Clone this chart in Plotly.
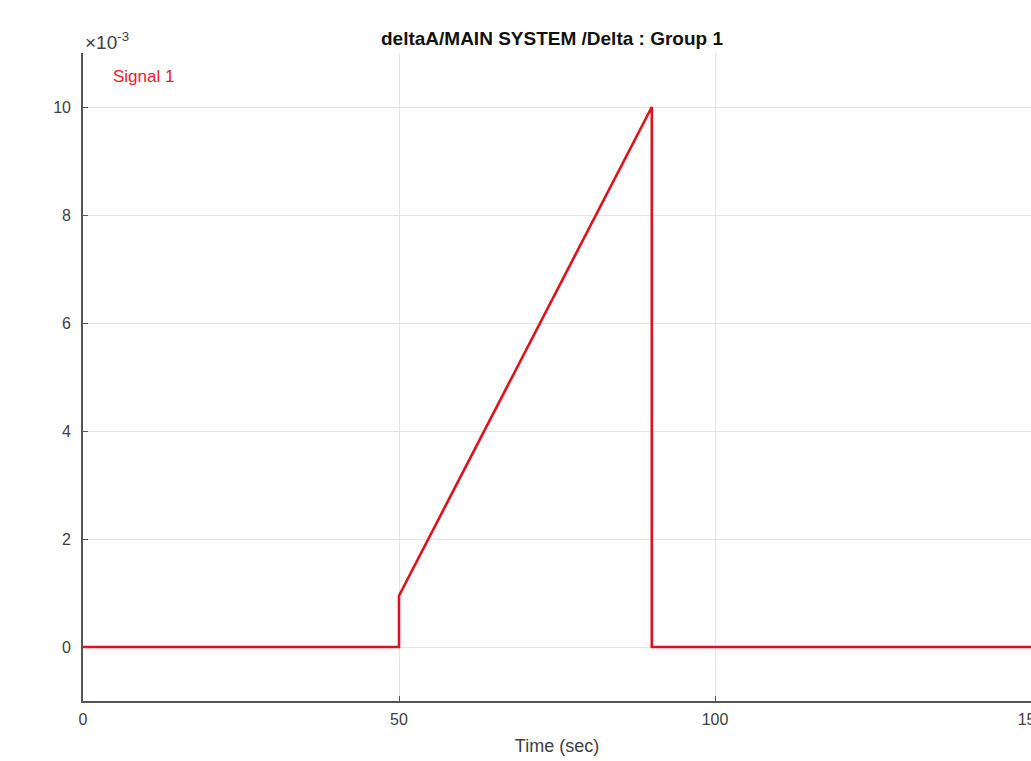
import plotly.graph_objects as go

# Signal 1 samples: time in seconds, value in raw units
time_s = [0, 50, 50, 90, 90, 150]
signal_1 = [0.0, 0.0, 0.00095, 0.010, 0.0, 0.0]

x_ticks = [0, 50, 100, 150]
y_ticks = [0, 0.002, 0.004, 0.006, 0.008, 0.010]
y_tick_labels = ["0", "2", "4", "6", "8", "10"]

FONT = "Liberation Sans, Arial, Helvetica, sans-serif"
AXIS_GRAY = "#555555"
TEXT_GRAY = "#404040"
RED = "#e0101c"

fig = go.Figure()
fig.add_trace(go.Scatter(
    x=time_s, y=signal_1, mode="lines",
    line=dict(color=RED, width=2.6),
    name="Signal 1", showlegend=False,
))

fig.update_layout(
    width=1031, height=761,
    margin=dict(l=83, r=0, t=53, b=60, autoexpand=False),
    paper_bgcolor="white", plot_bgcolor="white",
    font=dict(family=FONT, color=TEXT_GRAY, size=16),
    title=dict(
        text="<b>deltaA/MAIN SYSTEM /Delta : Group 1</b>",
        x=552 / 1031, xanchor="center",
        y=1 - 38 / 761, yanchor="middle",
        font=dict(family=FONT, size=19, color="#111111"),
    ),
    xaxis=dict(
        range=[0, 150], tickvals=x_ticks, automargin=False,
        showline=True, linecolor=AXIS_GRAY, linewidth=1.6,
        ticks="inside", ticklen=5, tickwidth=1.4, tickcolor=AXIS_GRAY,
        showgrid=True, gridcolor="#e4e4e4", gridwidth=1,
        zeroline=False, ticklabelstandoff=3, ticklabeloverflow="allow",
        tickfont=dict(size=16, color=TEXT_GRAY),
        title=dict(text="Time (sec)", standoff=12,
                   font=dict(size=18, color=TEXT_GRAY)),
    ),
    yaxis=dict(
        range=[-0.001, 0.011], tickvals=y_ticks, ticktext=y_tick_labels,
        automargin=False,
        showline=True, linecolor=AXIS_GRAY, linewidth=1.6,
        ticks="inside", ticklen=5, tickwidth=1.4, tickcolor=AXIS_GRAY,
        showgrid=True, gridcolor="#e4e4e4", gridwidth=1,
        zeroline=False, ticklabelstandoff=7,
        tickfont=dict(size=16, color=TEXT_GRAY),
    ),
    annotations=[
        dict(text="×10<sup>-3</sup>", xref="paper", yref="paper",
             x=0, y=1, xanchor="left", yanchor="bottom", yshift=-2,
             showarrow=False, font=dict(family=FONT, size=19, color=TEXT_GRAY)),
        dict(text="Signal 1", xref="paper", yref="paper",
             x=28 / 948, y=1 - 24 / 648, xanchor="left", yanchor="middle",
             showarrow=False, font=dict(family=FONT, size=17, color="#e8202a")),
    ],
)

fig.write_html("out.html")
